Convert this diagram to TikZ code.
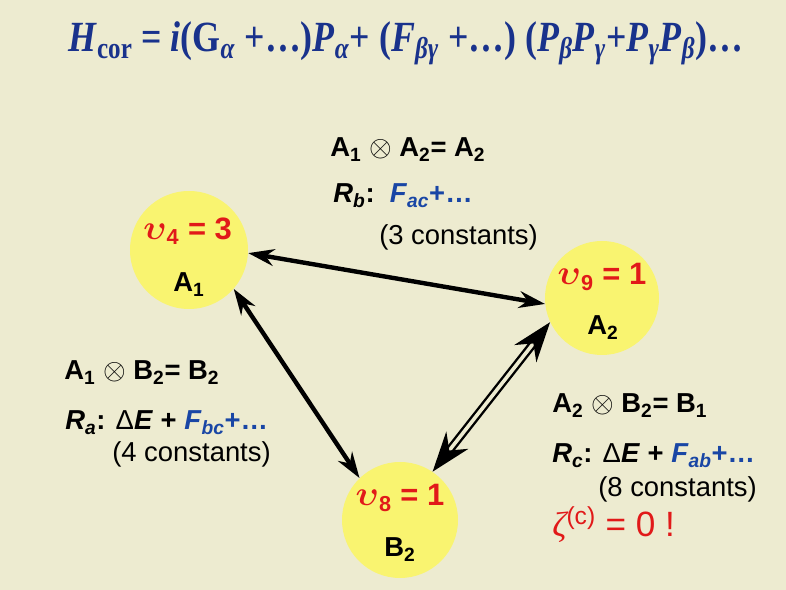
\documentclass[tikz,border=0pt]{standalone}
\usepackage{amsmath}
\usepackage{fontspec}
\setmainfont{Liberation Sans}
\newfontfamily\titlefont{Liberation Serif}
\usetikzlibrary{arrows.meta}

\definecolor{paper}{RGB}{237,235,208}
\definecolor{bubbleyellow}{RGB}{249,244,112}
\definecolor{modered}{RGB}{225,25,25}
\definecolor{titleblue}{RGB}{25,50,140}
\definecolor{fblue}{RGB}{25,70,165}

\begin{document}
\begin{tikzpicture}[
    font=\fontsize{19.5}{23}\selectfont,
    bubble/.style={circle, fill=bubbleyellow, inner sep=0pt, minimum size=2.95cm},
    mode/.style={anchor=base, text=modered, font=\fontsize{22}{25}\selectfont\bfseries},
    irrep/.style={anchor=base, font=\fontsize{19.5}{23}\selectfont\bfseries},
    eqn/.style={anchor=base west, inner sep=0pt},
    link/.style={{Stealth[length=6.5mm, width=4.2mm]}-{Stealth[length=6.5mm, width=4.2mm]}, line width=1.1mm},
    dlink/.style={{Stealth[length=10mm, width=7mm]}-{Stealth[length=10mm, width=7mm]}, line width=0.6mm, double=paper, double distance=0.9mm}
]
    \useasboundingbox (0,0) rectangle (19.65,14.75);
    \fill[paper] (0,0) rectangle (19.65,14.75);

    % Title
    \node[eqn, text=titleblue, font=\titlefont\bfseries\fontsize{25.5}{30}\selectfont] (hcor) at (1.7,13.45) {\scalebox{1}[1.2]{%
        \textit{H}\textsubscript{cor} = \textit{i}(G\textsubscript{\textit{α}} +…)\textit{P}\textsubscript{\textit{α}}+ (\textit{F}\textsubscript{\textit{βγ}} +…) (\textit{P}\textsubscript{\textit{β}}\textit{P}\textsubscript{\textit{γ}}+\textit{P}\textsubscript{\textit{γ}}\textit{P}\textsubscript{\textit{β}})…}};

    % Nodes
    \node[bubble] (A1) at (4.725,8.5) {};
    \node[bubble, minimum size=2.85cm] (A2) at (15.05,7.3) {};
    \node[bubble, minimum size=2.9cm] (B2) at (10.0,1.75) {};

    \node[mode] (nu4) at (4.69,8.75) {{\fontsize{29}{29}\selectfont$\boldsymbol{\upsilon}$}\textsubscript{4} = 3};
    \node[irrep] (symA1) at (4.725,7.45) {A\textsubscript{1}};
    \node[mode] (nu9) at (15.05,7.625) {{\fontsize{29}{29}\selectfont$\boldsymbol{\upsilon}$}\textsubscript{9} = 1};
    \node[irrep] (symA2) at (15.075,6.375) {A\textsubscript{2}};
    \node[mode] (nu8) at (10.0,2.1) {{\fontsize{29}{29}\selectfont$\boldsymbol{\upsilon}$}\textsubscript{8} = 1};
    \node[irrep] (symB2) at (10.0,0.825) {B\textsubscript{2}};

    % Products and constants
    \node[eqn] (prodb) at (8.25,10.825) {\textbf{A\textsubscript{1} $\otimes$ A\textsubscript{2}= A\textsubscript{2}}};
    \node[eqn] (relb) at (8.325,9.675) {\textbf{\textit{R}\textsubscript{\textit{b}}:}\ \ \textcolor{fblue}{\textbf{\textit{F}\textsubscript{\textit{ac}}+…}}};
    \node[eqn] (constb) at (9.475,8.625) {(3 constants)};

    \node[eqn] (proda) at (1.6,5.25) {\textbf{A\textsubscript{1} $\otimes$ B\textsubscript{2}= B\textsubscript{2}}};
    \node[eqn] (rela) at (1.625,4.0) {\textbf{\textit{R}\textsubscript{\textit{a}}:} Δ\textbf{\textit{E} + }\textcolor{fblue}{\textbf{\textit{F}\textsubscript{\textit{bc}}+…}}};
    \node[eqn] (consta) at (2.8,3.2) {(4 constants)};

    \node[eqn] (prodc) at (13.8,4.425) {\textbf{A\textsubscript{2} $\otimes$ B\textsubscript{2}= B\textsubscript{1}}};
    \node[eqn] (relc) at (13.8,3.175) {\textbf{\textit{R}\textsubscript{\textit{c}}:} Δ\textbf{\textit{E} + }\textcolor{fblue}{\textbf{\textit{F}\textsubscript{\textit{ab}}+…}}};
    \node[eqn] (constc) at (14.95,2.325) {(8 constants)};
    \node[eqn, text=modered, font=\fontsize{25}{28}\selectfont] (zeta) at (13.8,1.325) {{\titlefont\itshape ζ}\textsuperscript{(c)} = 0 !};

    % Links
    \draw[link] (A1.-3) -- (A2.186);
    \draw[link] (A1.-41) -- (B2.134);
    \draw[dlink] (A2.205) -- (B2.56);
\end{tikzpicture}
\end{document}
